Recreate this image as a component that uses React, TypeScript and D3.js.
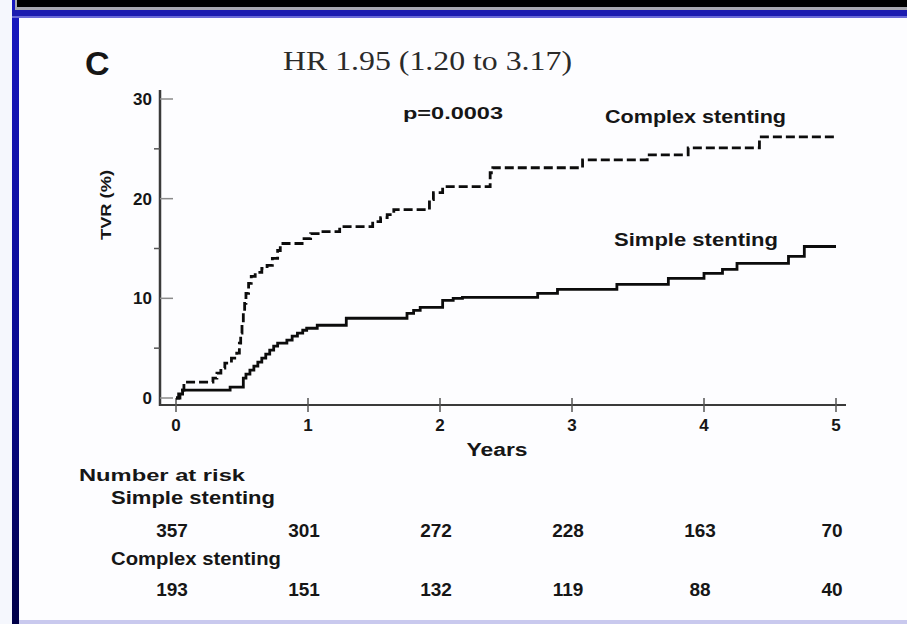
import React from "react";
import * as d3 from "d3";

const W = 907;
const H = 624;

// Kaplan-Meier step data (years, TVR %)
const simpleYears = [0, 0.02, 0.05, 0.41, 0.51, 0.53, 0.56, 0.59, 0.62, 0.65, 0.68, 0.71, 0.74, 0.77, 0.84, 0.88, 0.92, 0.96, 0.99, 1.07, 1.29, 1.75, 1.8, 1.85, 2.02, 2.1, 2.17, 2.74, 2.89, 3.34, 3.73, 4.0, 4.14, 4.25, 4.64, 4.76, 5.0];
const simpleTVR = [0, 0.4, 0.8, 1.1, 2.0, 2.4, 2.8, 3.2, 3.6, 4.0, 4.4, 4.8, 5.2, 5.5, 5.8, 6.2, 6.5, 6.8, 7.0, 7.3, 8.0, 8.5, 8.8, 9.1, 9.8, 10.0, 10.1, 10.5, 10.9, 11.4, 12.0, 12.5, 12.9, 13.5, 14.2, 15.2, 15.2];

const complexYears = [0, 0.03, 0.06, 0.28, 0.31, 0.34, 0.37, 0.42, 0.46, 0.48, 0.49, 0.5, 0.51, 0.52, 0.53, 0.55, 0.57, 0.6, 0.65, 0.69, 0.73, 0.77, 0.79, 0.97, 1.02, 1.1, 1.24, 1.49, 1.55, 1.6, 1.65, 1.92, 1.95, 2.02, 2.38, 2.4, 3.08, 3.57, 3.88, 4.42, 5.0];
const complexTVR = [0, 0.8, 1.6, 2.0, 2.5, 3.0, 3.5, 4.0, 4.5, 5.5, 6.5, 7.5, 8.5, 9.5, 10.5, 11.5, 12.2, 12.6, 13.0, 13.3, 14.0, 14.8, 15.5, 16.0, 16.5, 16.7, 17.2, 17.7, 18.1, 18.4, 18.9, 19.9, 20.6, 21.2, 22.6, 23.1, 23.9, 24.4, 25.1, 26.2, 26.2];

const xTicks = [0, 1, 2, 3, 4, 5];
const yMajorTicks = [0, 10, 20, 30];
const yMinorTicks = [5, 15, 25];

const riskGroups = ["Simple stenting", "Complex stenting"];
const simpleAtRisk = [357, 301, 272, 228, 163, 70];
const complexAtRisk = [193, 151, 132, 119, 88, 40];

const x = d3.scaleLinear().domain([0, 5]).range([176, 836]);
const y = d3.scaleLinear().domain([0, 30]).range([398, 99]);

const line = d3
  .line<[number, number]>()
  .x((d) => x(d[0]))
  .y((d) => y(d[1]))
  .curve(d3.curveStepAfter);

const simplePts: [number, number][] = simpleYears.map((t, i) => [t, simpleTVR[i]]);
const complexPts: [number, number][] = complexYears.map((t, i) => [t, complexTVR[i]]);

const sans = "'Liberation Sans', Arial, Helvetica, sans-serif";
const serif = "'Liberation Serif', 'Times New Roman', serif";
const ink = "#161616";

export default function App() {
  return (
    <svg
      width={W}
      height={H}
      viewBox={`0 0 ${W} ${H}`}
      style={{ position: "absolute", left: 0, top: 0, display: "block" }}
    >
      <defs>
        <linearGradient id="leftBorder" x1="0" y1="0" x2="0" y2="1">
          <stop offset="0" stopColor="#1818c0" />
          <stop offset="0.6" stopColor="#0a0a90" />
          <stop offset="1" stopColor="#000048" />
        </linearGradient>
      </defs>
      {/* background frame */}
      <rect x={0} y={0} width={W} height={H} fill="#f5f7fd" />
      <rect x={12} y={0} width={7} height={H} fill="url(#leftBorder)" />
      <rect x={15} y={0} width={W - 15} height={10} fill="#a8a8b0" />
      <rect x={17} y={0} width={W - 17} height={7} fill="#000000" />
      <rect x={12} y={10} width={W - 12} height={8} fill="#1c1cb0" />
      <rect x={12} y={16} width={W - 12} height={2} fill="#6a6ad8" />
      <rect x={19} y={18} width={W - 19} height={602} fill="#fdfdff" />
      <rect x={19} y={620} width={W - 19} height={4} fill="#c9c9ee" />

      {/* titles */}
      <text x={85} y={75} fontFamily={sans} fontWeight="bold" fontSize={34} fill={ink}>
        C
      </text>
      <text x={283} y={70} fontFamily={serif} fontSize={27} fill="#2a2a2a" textLength={289} lengthAdjust="spacingAndGlyphs">
        HR 1.95 (1.20 to 3.17)
      </text>
      <text x={403} y={119} fontFamily={sans} fontWeight="bold" fontSize={16} fill={ink} textLength={100} lengthAdjust="spacingAndGlyphs">
        p=0.0003
      </text>
      <text x={605} y={123} fontFamily={sans} fontWeight="bold" fontSize={18} fill={ink} textLength={181} lengthAdjust="spacingAndGlyphs">
        Complex stenting
      </text>
      <text x={614} y={246} fontFamily={sans} fontWeight="bold" fontSize={18} fill={ink} textLength={164} lengthAdjust="spacingAndGlyphs">
        Simple stenting
      </text>

      {/* y axis */}
      <line x1={160} x2={160} y1={90} y2={406} stroke="#3a3a3a" strokeWidth={2.5} />
      {yMajorTicks.map((t) => (
        <g key={"ym" + t}>
          <line x1={160} x2={173} y1={y(t)} y2={y(t)} stroke="#8a8a8a" strokeWidth={1.5} />
          <text
            x={152}
            y={y(t) + 6}
            textAnchor="end"
            fontFamily={sans}
            fontWeight="bold"
            fontSize={17}
            fill={ink}
          >
            {t}
          </text>
        </g>
      ))}
      {yMinorTicks.map((t) => (
        <line key={"yn" + t} x1={154} x2={160} y1={y(t)} y2={y(t)} stroke="#555" strokeWidth={1.5} />
      ))}
      <text
        transform={`translate(111,205) rotate(-90)`}
        textAnchor="middle"
        fontFamily={sans}
        fontWeight="bold"
        fontSize={15}
        fill={ink}
        textLength={70}
        lengthAdjust="spacingAndGlyphs"
      >
        TVR (%)
      </text>

      {/* x axis */}
      <line x1={160} x2={846} y1={405} y2={405} stroke="#3a3a3a" strokeWidth={2} />
      {xTicks.map((t) => (
        <g key={"xt" + t}>
          <line x1={x(t)} x2={x(t)} y1={398} y2={412} stroke="#555" strokeWidth={1.5} />
          <text x={x(t)} y={431} textAnchor="middle" fontFamily={sans} fontWeight="bold" fontSize={17} fill={ink}>
            {t}
          </text>
        </g>
      ))}
      <text x={497} y={456} textAnchor="middle" fontFamily={sans} fontWeight="bold" fontSize={18} fill={ink} textLength={61} lengthAdjust="spacingAndGlyphs">
        Years
      </text>

      {/* curves */}
      <path d={line(simplePts) || ""} fill="none" stroke="#0c0c0c" strokeWidth={2.8} />
      <path
        d={line(complexPts) || ""}
        fill="none"
        stroke="#0c0c0c"
        strokeWidth={2.8}
        strokeDasharray="9,4"
      />

      {/* number at risk */}
      <text x={79} y={481} fontFamily={sans} fontWeight="bold" fontSize={17} fill={ink} textLength={166} lengthAdjust="spacingAndGlyphs">
        Number at risk
      </text>
      <text x={111} y={504} fontFamily={sans} fontWeight="bold" fontSize={18} fill={ink} textLength={164} lengthAdjust="spacingAndGlyphs">
        {riskGroups[0]}
      </text>
      {simpleAtRisk.map((v, i) => (
        <text key={"sr" + i} x={x(xTicks[i]) - 4} y={537} textAnchor="middle" fontFamily={sans} fontWeight="bold" fontSize={19} fill={ink}>
          {v}
        </text>
      ))}
      <text x={111} y={565} fontFamily={sans} fontWeight="bold" fontSize={18} fill={ink} textLength={170} lengthAdjust="spacingAndGlyphs">
        {riskGroups[1]}
      </text>
      {complexAtRisk.map((v, i) => (
        <text key={"cr" + i} x={x(xTicks[i]) - 4} y={596} textAnchor="middle" fontFamily={sans} fontWeight="bold" fontSize={19} fill={ink}>
          {v}
        </text>
      ))}
    </svg>
  );
}
